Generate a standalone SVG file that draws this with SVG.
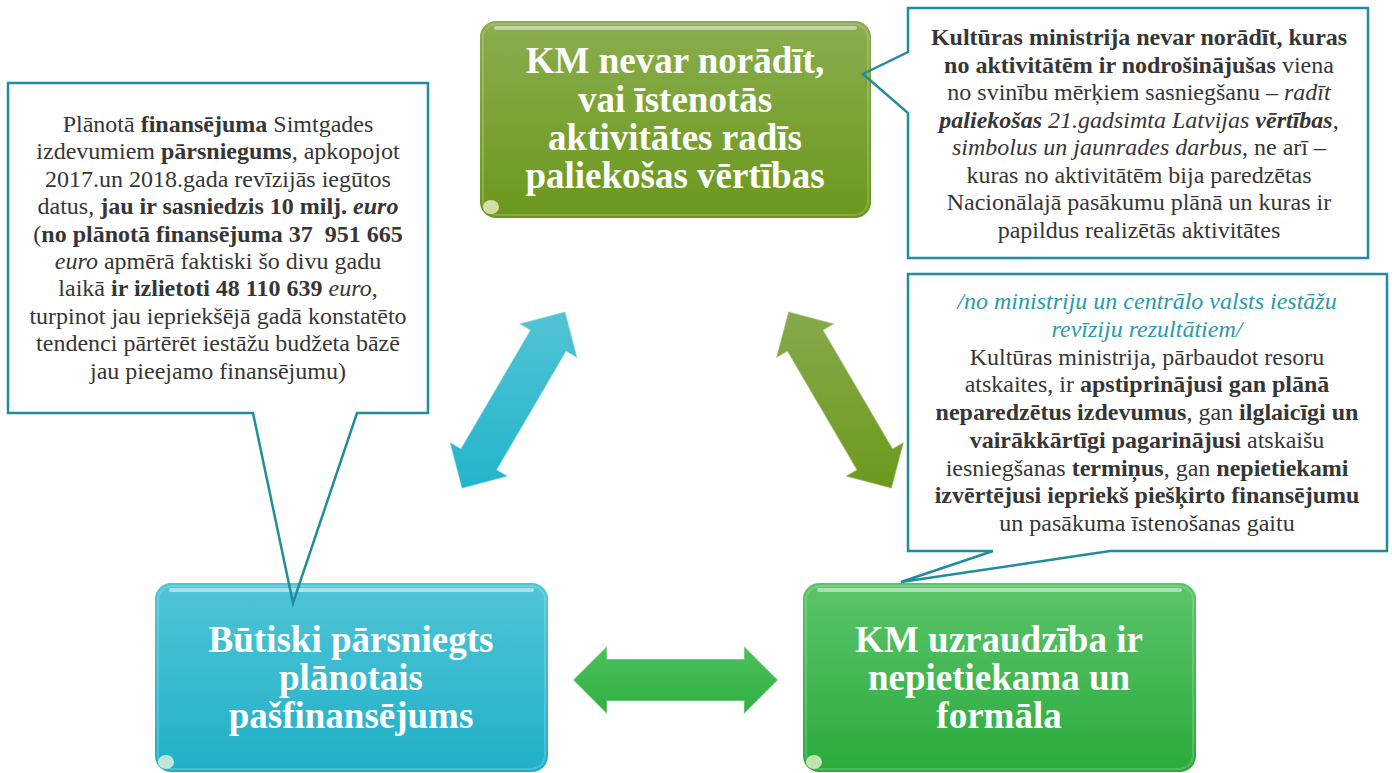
<svg xmlns="http://www.w3.org/2000/svg" width="1392" height="773" viewBox="0 0 1392 773">
<defs>
<linearGradient id="gOlive" x1="0" y1="0" x2="0" y2="1"><stop offset="0" stop-color="#8aad4e"/><stop offset="1" stop-color="#6b981c"/></linearGradient>
<linearGradient id="gCyan" x1="0" y1="0" x2="0" y2="1"><stop offset="0" stop-color="#50c5d6"/><stop offset="1" stop-color="#1fb0c8"/></linearGradient>
<linearGradient id="gGreen" x1="0" y1="0" x2="0" y2="1"><stop offset="0" stop-color="#5bc46a"/><stop offset="1" stop-color="#2aab3c"/></linearGradient>
<linearGradient id="aOlive" x1="0" y1="0" x2="0" y2="1"><stop offset="0" stop-color="#86aa4c"/><stop offset="1" stop-color="#6c991d"/></linearGradient>
<linearGradient id="aCyan" x1="0" y1="0" x2="0" y2="1"><stop offset="0" stop-color="#52c4d4"/><stop offset="1" stop-color="#22b4cb"/></linearGradient>
<linearGradient id="aGreen" x1="0" y1="0" x2="0" y2="1"><stop offset="0" stop-color="#4cc05a"/><stop offset="1" stop-color="#30b043"/></linearGradient>
</defs>
<style>
.call{fill:#ffffff;stroke:none}
.cstroke{fill:none;stroke:#218c9c;stroke-width:2.5;stroke-linejoin:miter}
.t{font-family:"Liberation Serif","Times New Roman",serif;font-size:24px;fill:#363636;text-anchor:middle}
.title{font-family:"Liberation Serif","Times New Roman",serif;font-size:37px;font-weight:bold;fill:#ffffff;text-anchor:middle}
.b{font-weight:bold}
.i{font-style:italic}
.teal{fill:#2a9aa8}
.edge{fill:none;stroke:#ffffff;stroke-opacity:0.18;stroke-width:2}
.top{fill:none;stroke:#ffffff;stroke-opacity:0.5;stroke-width:4;stroke-linecap:round}
.spot{fill:#fffbe0;fill-opacity:0.7}
.arrowhl{fill:none;stroke:#ffffff;stroke-opacity:0.35;stroke-width:1.5}
</style>

<g id="connectors">
<polygon fill="url(#aCyan)" points="461.8,488.4 449.6,441.9 460.8,448.5 530.0,330.3 518.8,323.7 565.3,311.6 577.4,358.1 566.2,351.5 497.0,469.7 508.2,476.3"/>
<polygon class="arrowhl" points="461.8,488.4 449.6,441.9 460.8,448.5 530.0,330.3 518.8,323.7 565.3,311.6 577.4,358.1 566.2,351.5 497.0,469.7 508.2,476.3"/>
<polygon fill="url(#aOlive)" points="891.7,488.4 903.9,441.9 892.7,448.5 823.5,330.3 834.7,323.7 788.3,311.6 776.1,358.1 787.3,351.5 856.5,469.7 845.3,476.3"/>
<polygon class="arrowhl" points="891.7,488.4 903.9,441.9 892.7,448.5 823.5,330.3 834.7,323.7 788.3,311.6 776.1,358.1 787.3,351.5 856.5,469.7 845.3,476.3"/>
<polygon fill="url(#aGreen)" points="573,680 607,646 607,659 744,659 744,646 778,680 744,714 744,701 607,701 607,714"/>
<polygon class="arrowhl" points="573,680 607,646 607,659 744,659 744,646 778,680 744,714 744,701 607,701 607,714"/>
</g>

<g id="node-top">
<rect x="480" y="21" width="391" height="197" rx="16" fill="url(#gOlive)"/>
<rect x="483" y="24" width="385" height="191" rx="14" class="edge"/>
<line x1="496" y1="28" x2="855" y2="28" class="top"/>
<ellipse cx="491" cy="207" rx="8" ry="7" class="spot"/>
<text class="title"><tspan x="675" y="73">KM nevar norādīt,</tspan><tspan x="675" y="112">vai īstenotās</tspan><tspan x="675" y="150">aktivitātes radīs</tspan><tspan x="675" y="188">paliekošas vērtības</tspan></text>
</g>

<g id="node-left">
<rect x="155" y="583" width="393" height="189" rx="16" fill="url(#gCyan)"/>
<rect x="158" y="586" width="387" height="183" rx="14" class="edge"/>
<line x1="171" y1="590" x2="532" y2="590" class="top"/>
<ellipse cx="166" cy="762" rx="8" ry="7" class="spot"/>
<text class="title"><tspan x="351" y="652">Būtiski pārsniegts</tspan><tspan x="351" y="690">plānotais</tspan><tspan x="351" y="728">pašfinansējums</tspan></text>
</g>

<g id="node-right">
<rect x="803" y="583" width="393" height="189" rx="16" fill="url(#gGreen)"/>
<rect x="806" y="586" width="387" height="183" rx="14" class="edge"/>
<line x1="819" y1="590" x2="1180" y2="590" class="top"/>
<ellipse cx="814" cy="762" rx="8" ry="7" class="spot"/>
<text class="title"><tspan x="999" y="652">KM uzraudzība ir</tspan><tspan x="999" y="690">nepietiekama un</tspan><tspan x="999" y="728">formāla</tspan></text>
</g>

<g id="callout-left">
<path class="call" d="M8,83 H428 V413 H357 L299.7,583 H288.8 L253,413 H8 Z"/>
<path class="cstroke" d="M8,83 H428 V413 H357 L293,603 L253,413 H8 Z"/>
<text class="t" x="218" y="132">Plānotā <tspan class="b">finansējuma</tspan> Simtgades</text>
<text class="t" x="218" y="159.4">izdevumiem <tspan class="b">pārsniegums</tspan>, apkopojot</text>
<text class="t" x="218" y="186.8">2017.un 2018.gada revīzijās iegūtos</text>
<text class="t" x="218" y="214.2">datus, <tspan class="b">jau ir sasniedzis 10 milj. </tspan><tspan class="b i">euro</tspan></text>
<text class="t" x="218" y="241.6" style="white-space:pre">(<tspan class="b">no plānotā finansējuma 37  951 665</tspan></text>
<text class="t" x="218" y="269"><tspan class="i">euro</tspan> apmērā faktiski šo divu gadu</text>
<text class="t" x="218" y="296.4">laikā <tspan class="b">ir izlietoti 48 110 639 </tspan><tspan class="i">euro</tspan>,</text>
<text class="t" x="218" y="323.8">turpinot jau iepriekšējā gadā konstatēto</text>
<text class="t" x="218" y="351.2">tendenci pārtērēt iestāžu budžeta bāzē</text>
<text class="t" x="218" y="378.6">jau pieejamo finansējumu)</text>
</g>

<g id="callout-top-right">
<path class="call" d="M908,8 H1368 V258 H908 V113 L871,80.9 V70.1 L908,52 Z"/>
<path class="cstroke" d="M908,8 H1368 V258 H908 V113 L863,74 L908,52 Z"/>
<text class="t" x="1139" y="45"><tspan class="b">Kultūras ministrija nevar norādīt, kuras</tspan></text>
<text class="t" x="1139" y="72.5"><tspan class="b">no aktivitātēm ir nodrošinājušas</tspan> viena</text>
<text class="t" x="1139" y="100">no svinību mērķiem sasniegšanu – <tspan class="i">radīt</tspan></text>
<text class="t" x="1139" y="127.5"><tspan class="b i">paliekošas</tspan><tspan class="i"> 21.gadsimta Latvijas </tspan><tspan class="b i">vērtības</tspan>,</text>
<text class="t" x="1139" y="155"><tspan class="i">simbolus un jaunrades darbus</tspan>, ne arī –</text>
<text class="t" x="1139" y="182.5">kuras no aktivitātēm bija paredzētas</text>
<text class="t" x="1139" y="210">Nacionālajā pasākumu plānā un kuras ir</text>
<text class="t" x="1139" y="237.5">papildus realizētās aktivitātes</text>
</g>

<g id="callout-bottom-right">
<path class="call" d="M908,274 H1387 V551 H1110 L901,582 L993,551 H908 Z"/>
<path class="cstroke" d="M908,274 H1387 V551 H1110 L901,582 L993,551 H908 Z"/>
<text class="t i teal" x="1147" y="309">/no ministriju un centrālo valsts iestāžu</text>
<text class="t i teal" x="1147" y="336.7">revīziju rezultātiem/</text>
<text class="t" x="1147" y="364.5">Kultūras ministrija, pārbaudot resoru</text>
<text class="t" x="1147" y="392.2">atskaites, ir <tspan class="b">apstiprinājusi gan plānā</tspan></text>
<text class="t" x="1147" y="420"><tspan class="b">neparedzētus izdevumus</tspan>, gan <tspan class="b">ilglaicīgi un</tspan></text>
<text class="t" x="1147" y="447.7"><tspan class="b">vairākkārtīgi pagarinājusi</tspan> atskaišu</text>
<text class="t" x="1147" y="475.5">iesniegšanas <tspan class="b">termiņus</tspan>, gan <tspan class="b">nepietiekami</tspan></text>
<text class="t" x="1147" y="503.2"><tspan class="b">izvērtējusi iepriekš piešķirto finansējumu</tspan></text>
<text class="t" x="1147" y="531">un pasākuma īstenošanas gaitu</text>
</g>
</svg>
